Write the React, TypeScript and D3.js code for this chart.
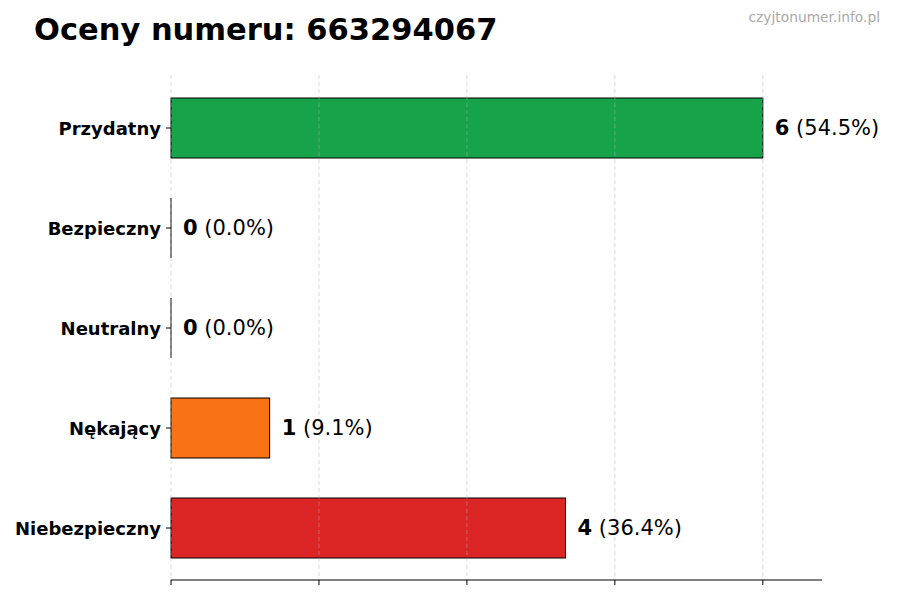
import React from "react";
import * as d3 from "d3";

const categories = ["Przydatny", "Bezpieczny", "Neutralny", "Nękający", "Niebezpieczny"];
const counts = [6, 0, 0, 1, 4];
const percents = ["54.5%", "0.0%", "0.0%", "9.1%", "36.4%"];
const colors = ["#16a34a", "#16a34a", "#9ca3af", "#f97316", "#dc2626"];
const xTicks = [0, 1.5, 3, 4.5, 6];
const titleText = "Oceny numeru: 663294067";
const watermark = "czyjtonumer.info.pl";

const W = 900;
const H = 600;
const FONT = "DejaVu Sans, sans-serif";

export default function App() {
  const x = d3.scaleLinear().domain([0, 6.6]).range([171, 822]);
  const y = d3
    .scaleBand<string>()
    .domain(categories)
    .range([78, 578])
    .paddingInner(0.4)
    .paddingOuter(0.2);
  const plotTop = 75;
  const plotBottom = 580;

  return (
    <svg
      width={W}
      height={H}
      style={{ position: "absolute", left: 0, top: 0, background: "#fff" }}
      fontFamily={FONT}
    >
      <rect x={0} y={0} width={W} height={H} fill="#fff" />
      <text x={34} y={40} fontSize={30.5} fontWeight="bold" fill="#000">
        {titleText}
      </text>
      <text x={880} y={22} fontSize={13.8} fill="#aaaaaa" textAnchor="end">
        {watermark}
      </text>

      {categories.map((c, i) => {
        const w = x(counts[i]) - x(0);
        return w > 0 ? (
          <rect
            key={c}
            x={x(0)}
            y={y(c)!}
            width={w}
            height={y.bandwidth()}
            fill={colors[i]}
            stroke="#000"
            strokeWidth={1}
          />
        ) : (
          <line
            key={c}
            x1={x(0)}
            x2={x(0)}
            y1={y(c)!}
            y2={y(c)! + y.bandwidth()}
            stroke="#000"
            strokeWidth={1}
          />
        );
      })}

      {xTicks.map((t) => (
        <line
          key={"g" + t}
          x1={x(t)}
          x2={x(t)}
          y1={plotTop}
          y2={plotBottom}
          stroke="#b0b0b0"
          strokeOpacity={0.6}
          strokeWidth={0.8}
          strokeDasharray="4,3"
        />
      ))}

      <line x1={x(0)} x2={x(6.6)} y1={plotBottom} y2={plotBottom} stroke="#000" strokeWidth={1.2} />
      {xTicks.map((t) => (
        <line key={"t" + t} x1={x(t)} x2={x(t)} y1={plotBottom} y2={plotBottom + 5} stroke="#000" strokeWidth={1} />
      ))}

      {categories.map((c) => {
        const cy = y(c)! + y.bandwidth() / 2;
        return (
          <g key={"y" + c}>
            <line x1={x(0) - 5} x2={x(0)} y1={cy} y2={cy} stroke="#000" strokeWidth={1} />
            <text
              x={x(0) - 10}
              y={cy + 1}
              dy="0.35em"
              textAnchor="end"
              fontSize={18}
              fontWeight="bold"
              fill="#000"
            >
              {c}
            </text>
          </g>
        );
      })}

      {categories.map((c, i) => {
        const cy = y(c)! + y.bandwidth() / 2;
        return (
          <text key={"v" + c} x={x(counts[i]) + 12} y={cy} dy="0.35em" fontSize={21} fill="#000">
            <tspan fontWeight="bold">{counts[i]}</tspan>
            <tspan> ({percents[i]})</tspan>
          </text>
        );
      })}
    </svg>
  );
}
